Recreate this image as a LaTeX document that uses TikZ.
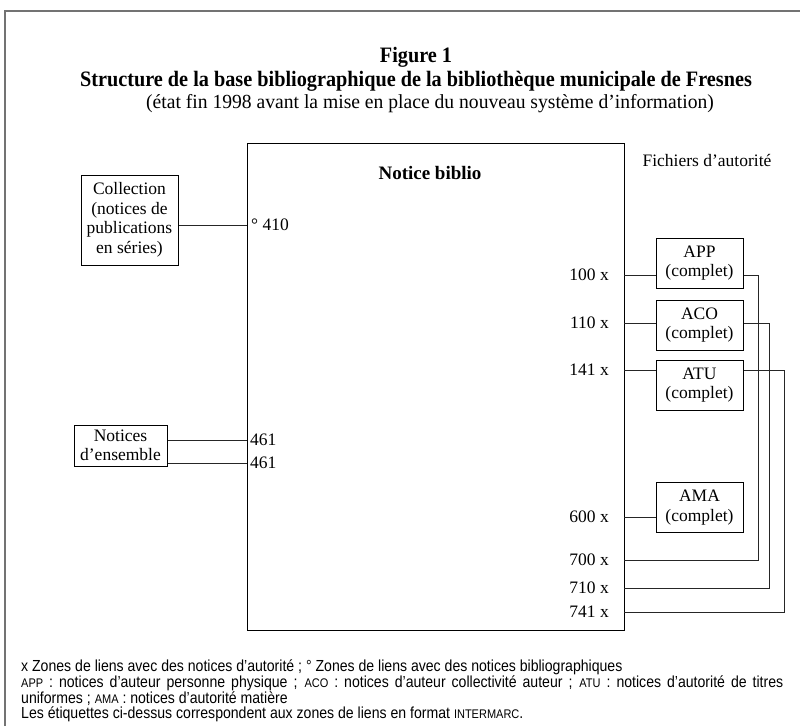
\documentclass[tikz,border=0pt]{standalone}
\usepackage{fontspec}
\setmainfont{Liberation Serif}
\newfontfamily\titlefont[Ligatures=TeX,FakeStretch=0.92]{Liberation Serif}
\newfontfamily\sousfont[Ligatures=TeX,FakeStretch=0.98]{Liberation Serif}
\newfontfamily\narrowsans[Ligatures=TeX,FakeStretch=0.88]{Liberation Sans}
\newcommand{\sig}[1]{{\fontsize{12.5}{12.5}\selectfont #1}}

\begin{document}
\begin{tikzpicture}[x=1pt,y=-1pt,
  box/.style={draw,line width=1pt,align=center,inner sep=0pt,font=\fontsize{17.5}{19.5}\selectfont},
  link/.style={line width=0.8pt,black!85},
  tag/.style={inner sep=0pt,font=\fontsize{17.5}{19.5}\selectfont},
  note/.style={inner sep=0pt,anchor=west,font=\narrowsans\fontsize{16}{16}\selectfont}]
\useasboundingbox (0,0) rectangle (800,726);
\draw[line width=1.3pt,black!55] (5,726) -- (5,11) -- (800,11);

% titre
 \path (416,57) node(fig){\titlefont\bfseries\fontsize{22}{24}\selectfont Figure 1};
 \path (416,81) node(titre){\titlefont\bfseries\fontsize{22}{24}\selectfont Structure de la base bibliographique de la biblioth\`eque municipale de Fresnes};
 \path (430,104) node(etat){\sousfont\fontsize{20}{22}\selectfont (\'etat fin 1998 avant la mise en place du nouveau syst\`eme d'information)};

% notice biblio
 \path (435.5,386.5) node(biblio)[box,minimum width=377,minimum height=487]{};
 \path (430,173) node(titrebib)[tag,font=\bfseries\fontsize{19}{20}\selectfont]{Notice biblio};
 \path (707,160) node(fichiers)[tag]{Fichiers d'autorit\'e};

% notices bibliographiques liees
 \path (129.5,220) node(coll)[box,minimum width=97,minimum height=90]{Collection\\(notices de\\publications\\en s\'eries)};
 \path (120.5,445.5) node(ens)[box,minimum width=93,minimum height=41]{Notices\\d'ensemble};
 \coordinate (z410) at (247,225);
 \coordinate (z461a) at (247,440);
 \coordinate (z461b) at (247,463);
 \path (z410) node(t410)[tag,right=4pt]{\textdegree{} 410};
 \path (z461a) node(t461a)[tag,right=3pt]{461};
 \path (z461b) node(t461b)[tag,right=3pt]{461};
 \draw[link] (coll.east |- z410) -- (z410);
 \draw[link] (ens.east |- z461a) -- (z461a);
 \draw[link] (ens.east |- z461b) -- (z461b);

% fichiers d'autorite
 \path (699.5,263) node(app)[box,minimum width=87,minimum height=50]{APP\\(complet)};
 \path (699.5,325) node(aco)[box,minimum width=87,minimum height=50]{ACO\\(complet)};
 \path (699.5,385) node(atu)[box,minimum width=87,minimum height=50]{ATU\\(complet)};
 \path (699.5,507.5) node(ama)[box,minimum width=87,minimum height=50]{AMA\\(complet)};

 \coordinate (z100) at (624,275);
 \coordinate (z110) at (624,323);
 \coordinate (z141) at (624,370);
 \coordinate (z600) at (624,517);
 \coordinate (z700) at (624,560);
 \coordinate (z710) at (624,588);
 \coordinate (z741) at (624,612);
 \path (z100) node[tag,left=15pt]{100 x};
 \path (z110) node[tag,left=15pt]{110 x};
 \path (z141) node[tag,left=15pt]{141 x};
 \path (z600) node[tag,left=15pt]{600 x};
 \path (z700) node[tag,left=15pt]{700 x};
 \path (z710) node[tag,left=15pt]{710 x};
 \path (z741) node[tag,left=15pt]{741 x};

 \draw[link] (z100) -- (app.west |- z100);
 \draw[link] (z110) -- (aco.west |- z110);
 \draw[link] (z141) -- (atu.west |- z141);
 \draw[link] (z600) -- (ama.west |- z600);
 \draw[link] (app.east |- z100) -- (758,275) |- (z700);
 \draw[link] (aco.east |- z110) -- (769,323) |- (z710);
 \draw[link] (atu.east |- z141) -- (784,370) |- (z741);

% notes
 \path (21,667) node(n1)[note]{x Zones de liens avec des notices d'autorit\'e ; \textdegree{} Zones de liens avec des notices bibliographiques};
 \path (21,683) node(n2)[note]{\makebox[762pt][s]{\sig{APP} : notices d'auteur personne physique ; \sig{ACO} : notices d'auteur collectivit\'e auteur ; \sig{ATU} : notices d'autorit\'e de titres}};
 \path (21,698.5) node(n3)[note]{uniformes ; \sig{AMA} : notices d'autorit\'e mati\`ere};
 \path (21,714) node(n4)[note]{Les \'etiquettes ci-dessus correspondent aux zones de liens en format \sig{INTERMARC}.};
\end{tikzpicture}
\end{document}
